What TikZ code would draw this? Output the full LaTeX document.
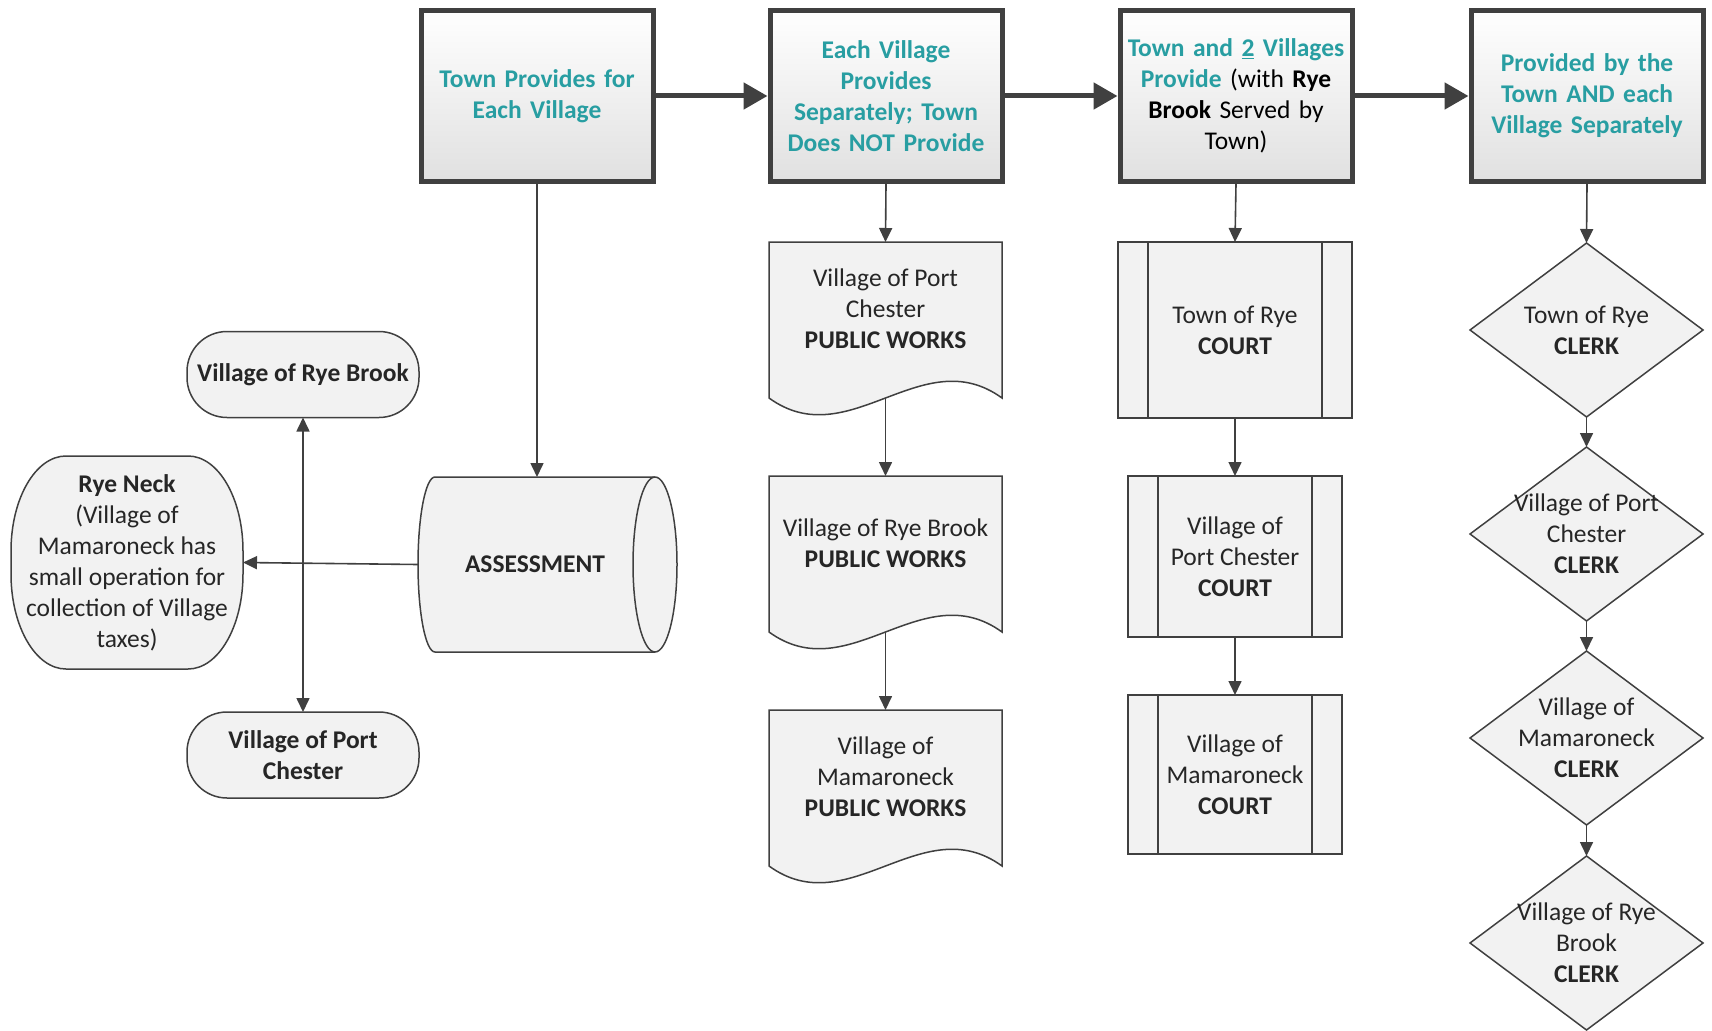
\documentclass[tikz,border=0pt]{standalone}
\usepackage{fontspec}
\setmainfont{Carlito}
\usetikzlibrary{arrows.meta}
\definecolor{headtxt}{RGB}{40,158,162}
\definecolor{edge}{RGB}{64,64,64}
\definecolor{shfill}{RGB}{242,242,242}
\pgfdeclarelayer{bg}
\pgfsetlayers{bg,main}
\begin{document}
\begin{tikzpicture}[x=1pt,y=-1pt,
  font=\fontsize{25.5}{31}\selectfont,
  head/.style={draw=edge, line width=5pt, top color=white, bottom color=black!12,
    minimum width=232pt, minimum height=170pt, text width=226pt, align=center,
    inner sep=0pt, text=headtxt, font=\fontsize{25.5}{31}\selectfont\bfseries},
  bigarrow/.style={draw=edge, line width=5pt, -{Triangle[length=24pt,width=26pt]}},
  arr/.style={draw=edge, line width=1.6pt, -{Triangle[length=14pt,width=13pt]}},
  shp/.style={draw=edge, line width=1.5pt, fill=shfill},
  frame/.style={inner sep=0pt, outer sep=0pt, align=center, text=black!85},
  boldtxt/.style={font=\fontsize{25.5}{31}\selectfont\bfseries},
  docbox/.style={frame, minimum width=233pt, minimum height=156pt},
  courtbox/.style={shp, frame, minimum width=214pt, minimum height=160pt},
  dia/.style={frame, minimum width=233pt, minimum height=174pt},
  term/.style={shp, frame, boldtxt, rounded corners=40pt, minimum width=232pt, minimum height=86pt}
]
\useasboundingbox (0,0) rectangle (1712,1030);

% header boxes
\node[head] (B1) at (537,96) {Town Provides for\\Each Village};
\node[head] (B2) at (886,96) {Each Village\\Provides\\Separately; Town\\Does NOT Provide};
\node[head] (B3) at (1236,96) {Town and \underline{2} Villages\\Provide {\color{black}\mdseries(with \textbf{Rye}}\\{\color{black}\mdseries\textbf{Brook} Served by}\\{\color{black}\mdseries Town)}};
\node[head] (B4) at (1587,96) {Provided by the\\Town AND each\\Village Separately};

\draw[bigarrow] (B1.east) -- (B2.west);
\draw[bigarrow] (B2.east) -- (B3.west);
\draw[bigarrow] (B3.east) -- (B4.west);

% assessment column
\node[frame, boldtxt, minimum width=220pt, minimum height=175pt] (A) at (545,564.5) {\hspace*{-20pt}ASSESSMENT};
\node[frame, minimum width=232pt, minimum height=213pt] (RN) at (127,562.5)
  {\textbf{Rye Neck}\\(Village of\\Mamaroneck has\\small operation for\\collection of Village\\taxes)};
\node[term] (RB) at (303,374.5) {Village of Rye Brook};
\node[term] (PC) at (303,755) {Village of Port\\Chester};
\coordinate (J) at (303,564.5);

\draw[arr] (B1.south) -- (B1.south |- A.north);
\draw[arr] ([xshift=-17pt]A.west) -- (RN.east);
\draw[arr] (J) -- (RB.south);
\draw[arr] (J) -- (PC.north);

% public works column
\node[docbox] (PW1) at (885.5,320) {};
\node[frame] (PW1t) at (885.5,309) {Village of Port\\Chester\\\textbf{PUBLIC WORKS}};
\node[docbox] (PW2) at (885.5,554) {};
\node[frame] (PW2t) at (885.5,543) {Village of Rye Brook\\\textbf{PUBLIC WORKS}};
\node[docbox] (PW3) at (885.5,788) {};
\node[frame] (PW3t) at (885.5,777) {Village of\\Mamaroneck\\\textbf{PUBLIC WORKS}};

\draw[arr] (B2.south) -- (PW1.north);
\draw[arr] (PW1.south) -- (PW2.north);
\draw[arr] (PW2.south) -- (PW3.north);

% court column
\node[courtbox, minimum width=234pt, minimum height=176pt] (C1) at (1235,330) {Town of Rye\\\textbf{COURT}};
\node[courtbox, minimum height=161pt] (C2) at (1235,556.5) {Village of\\Port Chester\\\textbf{COURT}};
\node[courtbox, minimum height=159pt] (C3) at (1235,774.5) {Village of\\Mamaroneck\\\textbf{COURT}};
\foreach \n in {C1,C2,C3}{
  \draw[edge, line width=1.5pt] ([xshift=30pt]\n.north west) -- ([xshift=30pt]\n.south west);
  \draw[edge, line width=1.5pt] ([xshift=-30pt]\n.north east) -- ([xshift=-30pt]\n.south east);
}
\draw[arr] (B3.south) -- (C1.north);
\draw[arr] (C1.south) -- (C2.north);
\draw[arr] (C2.south) -- (C3.north);

% clerk column
\node[dia] (D1) at (1586.5,330) {Town of Rye\\\textbf{CLERK}};
\node[dia] (D2) at (1586.5,534) {Village of Port\\Chester\\\textbf{CLERK}};
\node[dia] (D3) at (1586.5,738) {Village of\\Mamaroneck\\\textbf{CLERK}};
\node[dia] (D4) at (1586.5,943) {Village of Rye\\Brook\\\textbf{CLERK}};
\draw[arr] (B4.south) -- (D1.north);
\draw[arr] (D1.south) -- (D2.north);
\draw[arr] (D2.south) -- (D3.north);
\draw[arr] (D3.south) -- (D4.north);

% shapes drawn behind
\begin{pgfonlayer}{bg}
  % assessment (horizontal cylinder)
  \path[shp] (435,477) -- (655,477)
    .. controls (667.15,477) and (677,516.17) .. (677,564.5)
    .. controls (677,612.83) and (667.15,652) .. (655,652)
    -- (435,652)
    .. controls (425.61,652) and (418,612.83) .. (418,564.5)
    .. controls (418,516.17) and (425.61,477) .. (435,477) -- cycle;
  \draw[edge, line width=1.5pt] (655,477)
    .. controls (642.85,477) and (633,516.17) .. (633,564.5)
    .. controls (633,612.83) and (642.85,652) .. (655,652);
  % Rye Neck
  \path[shp] (66,456) -- (188,456)
    .. controls (218.4,456) and (243,498.5) .. (243,551)
    -- (243,574)
    .. controls (243,626.5) and (218.4,669) .. (188,669)
    -- (66,669)
    .. controls (35.6,669) and (11,626.5) .. (11,574)
    -- (11,551)
    .. controls (11,498.5) and (35.6,456) .. (66,456) -- cycle;
  % documents
  \foreach \n in {PW1,PW2,PW3}{
    \path[shp] (\n.north west) -- (\n.north east) -- (\n.south east)
      .. controls ([shift={(-80,-58)}]\n.south east) and ([shift={(80,58)}]\n.south west) .. (\n.south west) -- cycle;
  }
  % diamonds
  \foreach \n in {D1,D2,D3,D4}{
    \path[shp] (\n.north) -- (\n.east) -- (\n.south) -- (\n.west) -- cycle;
  }
\end{pgfonlayer}
\end{tikzpicture}
\end{document}
